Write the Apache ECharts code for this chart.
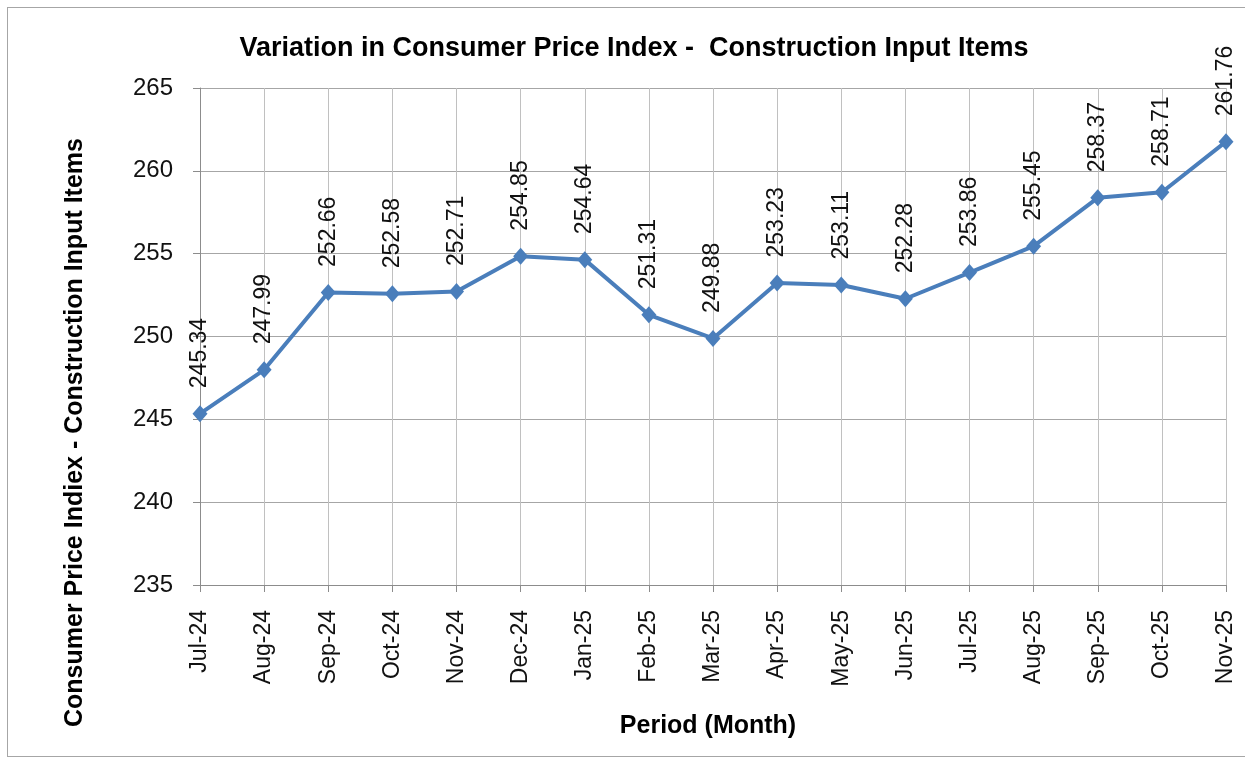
<!DOCTYPE html>
<html>
<head>
<meta charset="utf-8">
<script src="https://cdn.jsdelivr.net/npm/echarts@6/dist/echarts.min.js"></script>
<style>
  html, body { margin: 0; padding: 0; background: #fff; }
  #frame { position: absolute; left: 7px; top: 7px; width: 1245px; height: 750px; border: 1px solid #a6a6a6; box-sizing: border-box; }
  #chart { width: 1245px; height: 767px; }
</style>
</head>
<body>
<div id="frame"></div>
<div id="chart"></div>
<script>
  // months on the x axis
  var months = ['Jul-24', 'Aug-24', 'Sep-24', 'Oct-24', 'Nov-24', 'Dec-24', 'Jan-25', 'Feb-25', 'Mar-25',
    'Apr-25', 'May-25', 'Jun-25', 'Jul-25', 'Aug-25', 'Sep-25', 'Oct-25', 'Nov-25'];
  // CPI construction input items
  var cpiValues = [245.34, 247.99, 252.66, 252.58, 252.71, 254.85, 254.64, 251.31, 249.88,
    253.23, 253.11, 252.28, 253.86, 255.45, 258.37, 258.71, 261.76];

  var font = '"Liberation Sans", Arial, sans-serif';
  var chart = echarts.init(document.getElementById('chart'));
  chart.setOption({
    animation: false,
    textStyle: { fontFamily: font },
    title: {
      text: 'Variation in Consumer Price Index -  Construction Input Items',
      left: 629, top: 30, textAlign: 'center',
      textStyle: { fontSize: 27, fontWeight: 'bold', color: '#000', fontFamily: font }
    },
    grid: { left: 200, right: 19, top: 88, bottom: 182 },
    xAxis: {
      type: 'category',
      data: months,
      boundaryGap: false,
      name: 'Period (Month)',
      nameLocation: 'middle',
      nameGap: 129,
      nameTextStyle: { fontSize: 25, fontWeight: 'bold', color: '#000', padding: [0, 10, 0, 0] },
      axisLine: { lineStyle: { color: '#8c8c8c' } },
      axisTick: { show: true, alignWithLabel: true, length: 7, lineStyle: { color: '#8c8c8c' } },
      axisLabel: { rotate: 90, fontSize: 23, color: '#111', margin: 25 },
      splitLine: { show: true, lineStyle: { color: '#c0c0c0' } }
    },
    yAxis: {
      type: 'value',
      min: 235, max: 265, interval: 5,
      name: 'Consumer Price Indiex - Construction Input Items',
      nameLocation: 'middle',
      nameGap: 112,
      nameTextStyle: { fontSize: 25, fontWeight: 'bold', color: '#000', padding: [0, 0, 0, -192] },
      axisLine: { show: true, lineStyle: { color: '#8c8c8c' } },
      axisTick: { show: true, length: 7, lineStyle: { color: '#8c8c8c' } },
      axisLabel: { fontSize: 24, color: '#111', margin: 27 },
      splitLine: { lineStyle: { color: '#a6a6a6' } }
    },
    series: [{
      type: 'line',
      data: cpiValues,
      symbol: 'diamond',
      symbolSize: [15, 17],
      itemStyle: { color: '#4a7ebb' },
      lineStyle: { color: '#4a7ebb', width: 4 },
      label: {
        show: true,
        position: 'top',
        rotate: 90,
        align: 'left',
        verticalAlign: 'middle',
        distance: 17,
        fontSize: 23,
        color: '#111'
      }
    }]
  });
</script>
</body>
</html>
